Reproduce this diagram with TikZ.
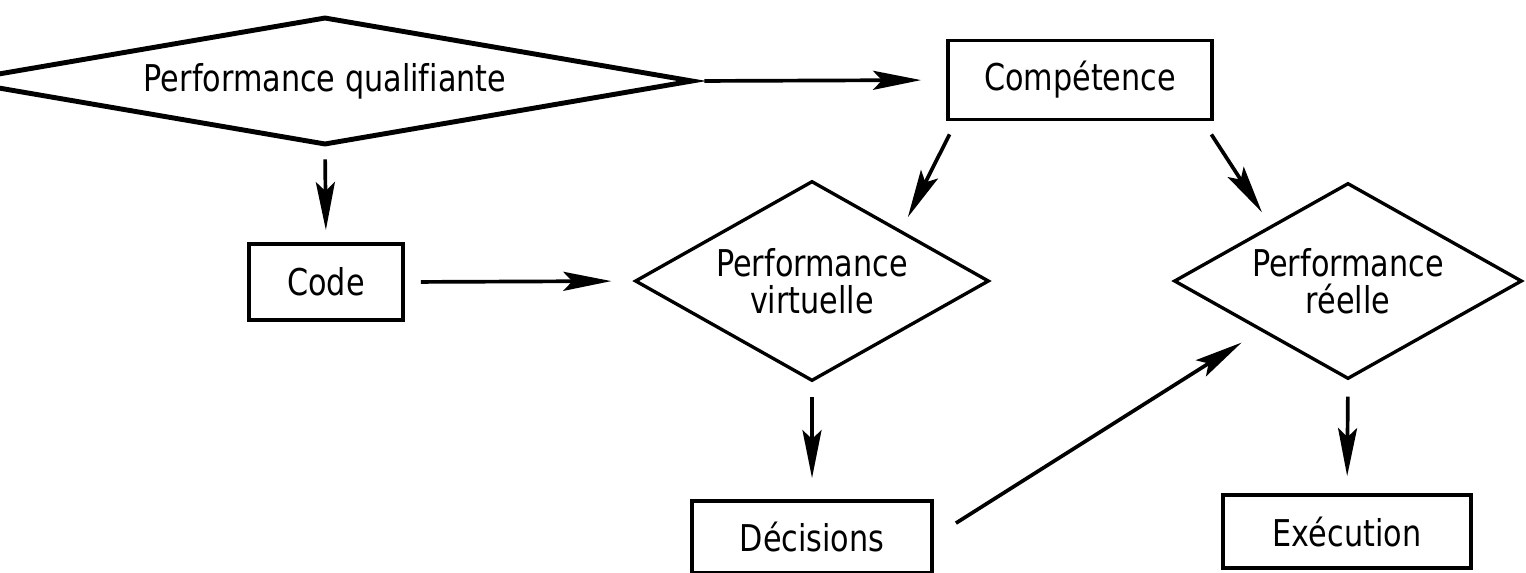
\documentclass[tikz,border=0pt]{standalone}
\usepackage{fontspec}
\newfontfamily\isofont{DejaVu Sans}[FakeStretch=0.82, Ligatures=NoCommon]
\usetikzlibrary{shapes.geometric,arrows.meta}

\tikzset{
  lettrage/.style={font=\isofont\fontsize{21}{21}\selectfont},
  boite/.style={draw, line width=2.2pt, inner sep=0pt, lettrage},
  losange/.style={draw, diamond, line width=1.9pt, inner sep=0pt, align=center, lettrage},
  fleche/.style={line width=2.1pt, -{Stealth[length=9.6mm, width=3.8mm, inset=1.8mm]}},
}

\begin{document}
\begin{tikzpicture}[x=0.2mm, y=-0.2mm]
\useasboundingbox (0,0) rectangle (1526,572);
\node[losange, line width=2.8pt, aspect=5.75, minimum width=147.2mm, minimum height=25.6mm] (qual) at (325,81) {Performance qualifiante};
\node[boite, minimum width=52.8mm, minimum height=15.8mm] (comp) at (1080,80) {Compétence};
\node[boite, minimum width=30.8mm, minimum height=15.2mm] (code) at (326,282) {Code};
\node[losange, aspect=1.77, minimum width=70.8mm, minimum height=40mm] (virt) at (812,281) {Performance\\virtuelle};
\node[losange, aspect=1.77, minimum width=69.6mm, minimum height=39.2mm] (reel) at (1348,281) {Performance\\réelle};
\node[boite, minimum width=48mm, minimum height=14.4mm] (deci) at (812,537) {Décisions};
\node[boite, minimum width=49.6mm, minimum height=14.6mm] (exec) at (1347,531.5) {Exécution};
\draw[fleche, shorten <=1.8mm, shorten >=5mm] (qual.east) -- (comp.west);
\draw[fleche, shorten <=2.4mm, shorten >=2.4mm] (qual.south) -- (code.north);
\draw[fleche, shorten <=3.2mm, shorten >=4.4mm] (code.east) -- (virt.west);
\draw[fleche, shorten <=2.9mm, shorten >=2.9mm] ([xshift=2mm]comp.south west) -- (virt.north east);
\draw[fleche, shorten <=3.1mm, shorten >=4.5mm] ([xshift=-2.2mm]comp.south east) -- ([xshift=2.8mm]reel.north west);
\draw[fleche, shorten <=2.8mm, shorten >=4.2mm] (virt.south) -- (deci.north);
\draw[fleche, shorten <=5.2mm, shorten >=4.4mm] (deci.east) -- (reel.south west);
\draw[fleche, shorten <=3.2mm, shorten >=3.4mm] (reel.south) -- (exec.north);
\end{tikzpicture}
\end{document}
